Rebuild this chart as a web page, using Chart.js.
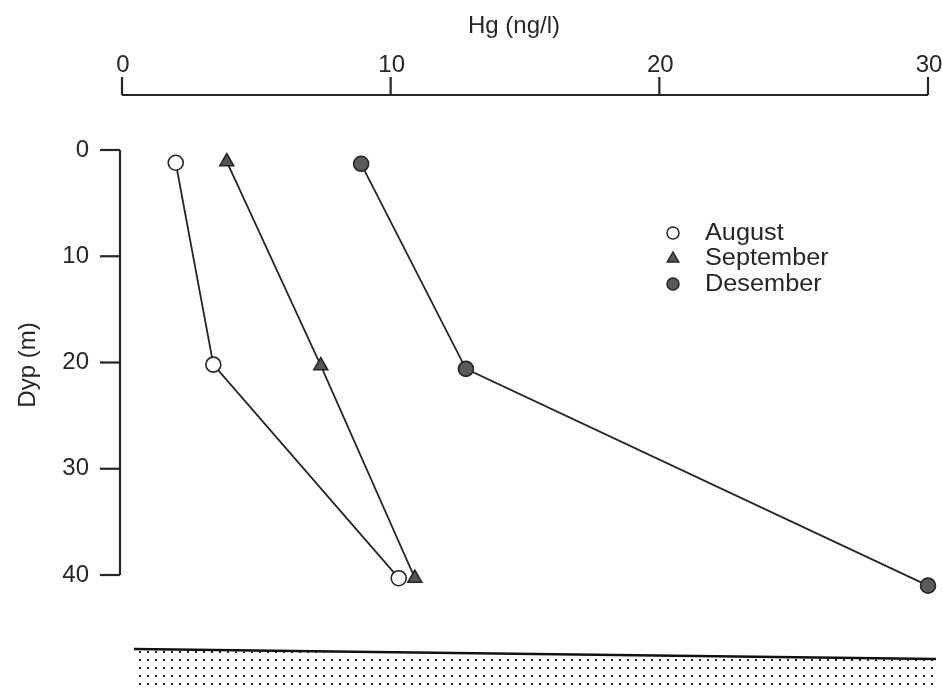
<!DOCTYPE html>
<html><head><meta charset="utf-8">
<script src="https://cdn.jsdelivr.net/npm/chart.js@4/dist/chart.umd.min.js"></script>
<style>html,body{margin:0;padding:0;background:#fff;}#wrap{width:942px;height:688px;}</style>
</head><body><div id="wrap"><canvas id="c" width="942" height="688"></canvas></div>
<script>
const xTicks = [0, 10, 20, 30];
const yTicks = [0, 10, 20, 30, 40];
const seriesNames = ['August', 'September', 'Desember'];
const augustHg = [2.0, 3.4, 10.3];
const augustDepth = [1.2, 20.2, 40.3];
const septemberHg = [3.9, 7.4, 10.9];
const septemberDepth = [1.1, 20.3, 40.3];
const desemberHg = [8.9, 12.8, 30.0];
const desemberDepth = [1.3, 20.6, 41.0];
const xTitle = 'Hg (ng/l)';
const yTitle = 'Dyp (m)';

const ink = '#262626';
const font = '"Liberation Sans", Arial, sans-serif';
function pts(xs, ys){ return xs.map((x,i)=>({x:x, y:ys[i]})); }

const styles = [
  {pointStyle:'circle', bg:'#ffffff', r:7.5},
  {pointStyle:'triangle', bg:'#555555', r:8},
  {pointStyle:'circle', bg:'#5a5a5a', r:7.5}
];

const custom = {
  id:'custom',
  afterDraw(chart){
    const ctx = chart.ctx;
    const xs = chart.scales.x, ys = chart.scales.y;
    ctx.save();
    ctx.strokeStyle = ink; ctx.fillStyle = ink; ctx.lineWidth = 2.2;
    // top x axis
    const axY = 95;
    ctx.beginPath();
    ctx.moveTo(xs.getPixelForValue(xTicks[0]), axY);
    ctx.lineTo(xs.getPixelForValue(xTicks[xTicks.length-1]), axY);
    ctx.stroke();
    ctx.font = '24px ' + font;
    ctx.textAlign = 'center'; ctx.textBaseline = 'alphabetic';
    xTicks.forEach(v=>{
      const px = xs.getPixelForValue(v);
      ctx.beginPath(); ctx.moveTo(px, axY); ctx.lineTo(px, axY-18); ctx.stroke();
      ctx.fillText(String(v), px + 1, 72);
    });
    ctx.textAlign = 'left';
    ctx.fillText(xTitle, 468, 33);
    // left y axis
    const axX = 120;
    ctx.beginPath();
    ctx.moveTo(axX, ys.getPixelForValue(yTicks[0]));
    ctx.lineTo(axX, ys.getPixelForValue(yTicks[yTicks.length-1]));
    ctx.stroke();
    ctx.textAlign = 'right'; ctx.textBaseline = 'middle';
    yTicks.forEach(v=>{
      const py = ys.getPixelForValue(v);
      ctx.beginPath(); ctx.moveTo(axX, py); ctx.lineTo(axX-20, py); ctx.stroke();
      ctx.fillText(String(v), 89, py);
    });
    ctx.save();
    ctx.translate(28, 365); ctx.rotate(-Math.PI/2);
    ctx.textAlign = 'center'; ctx.textBaseline = 'middle';
    ctx.fillText(yTitle, 0, 0);
    ctx.restore();
    // legend
    const lx = 673, ly = [233, 258, 284];
    ctx.textAlign = 'left'; ctx.textBaseline = 'middle';
    chart.data.datasets.forEach((ds,i)=>{
      ctx.lineWidth = 1.5; ctx.strokeStyle = ink; ctx.fillStyle = ds.pointBackgroundColor;
      const r = 6;
      ctx.beginPath();
      if (ds.pointStyle === 'triangle'){
        ctx.moveTo(lx, ly[i]-r); ctx.lineTo(lx+r*0.95, ly[i]+r*0.65); ctx.lineTo(lx-r*0.95, ly[i]+r*0.65); ctx.closePath();
      } else {
        ctx.arc(lx, ly[i], r, 0, Math.PI*2);
      }
      ctx.fill(); ctx.stroke();
      ctx.fillStyle = ink;
      ctx.save();
      ctx.translate(705, ly[i]+1); ctx.scale(1.1, 1);
      ctx.font = '23px ' + font;
      ctx.fillText(ds.label, 0, 0);
      ctx.restore();
    });
    // bottom stippled band (sediment)
    const pc = document.createElement('canvas'); pc.width = 8; pc.height = 8;
    const p = pc.getContext('2d'); p.fillStyle = '#2a2a2a'; p.fillRect(3,3,2,2);
    ctx.fillStyle = ctx.createPattern(pc, 'repeat');
    ctx.beginPath();
    ctx.moveTo(134, 650); ctx.lineTo(936, 660); ctx.lineTo(936, 688); ctx.lineTo(134, 688); ctx.closePath();
    ctx.fill();
    ctx.strokeStyle = '#111'; ctx.lineWidth = 2.5;
    ctx.beginPath(); ctx.moveTo(134, 649); ctx.lineTo(936, 659); ctx.stroke();
    ctx.restore();
  }
};

const datasets = [
  {label:seriesNames[0], data:pts(augustHg, augustDepth)},
  {label:seriesNames[1], data:pts(septemberHg, septemberDepth)},
  {label:seriesNames[2], data:pts(desemberHg, desemberDepth)}
].map((d,i)=>Object.assign(d, {
  showLine:true, borderColor:ink, borderWidth:1.8,
  pointStyle:styles[i].pointStyle, pointRadius:styles[i].r, pointHoverRadius:styles[i].r,
  pointBackgroundColor:styles[i].bg, pointBorderColor:ink, pointBorderWidth:1.6,
  clip:false, tension:0
}));

new Chart(document.getElementById('c'), {
  type:'scatter',
  data:{datasets:datasets},
  options:{
    responsive:false, animation:false,
    layout:{padding:{left:122, right:14, top:150, bottom:91.75}},
    plugins:{legend:{display:false}, tooltip:{enabled:false}},
    scales:{
      x:{type:'linear', min:0, max:30, display:false},
      y:{type:'linear', min:0, max:42, reverse:true, display:false}
    }
  },
  plugins:[custom]
});
</script></body></html>
